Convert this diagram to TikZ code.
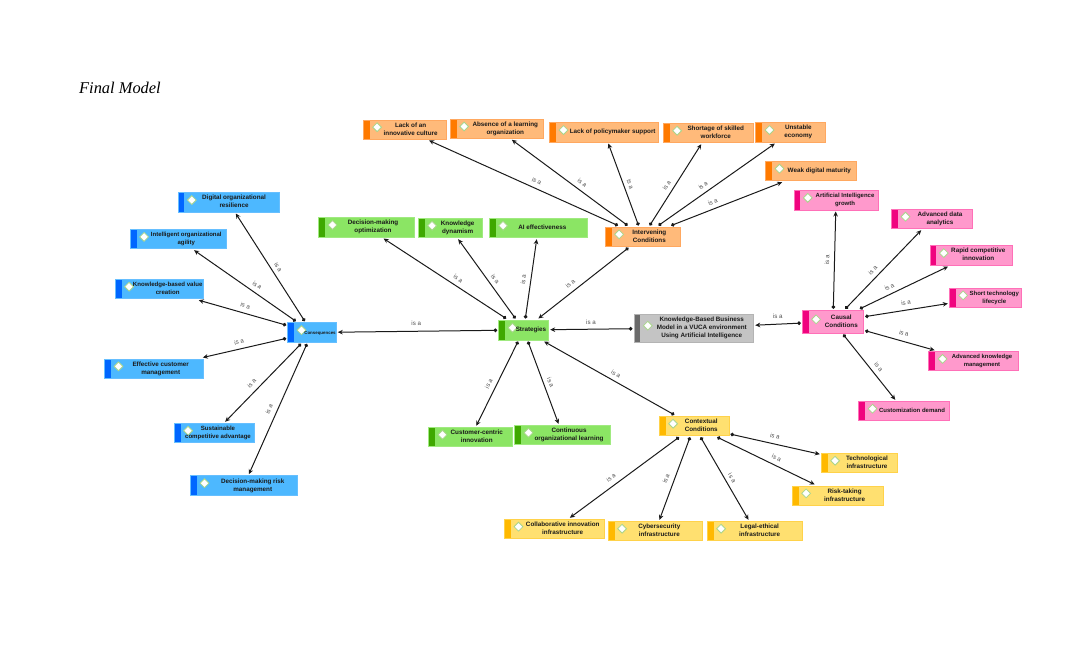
\documentclass[tikz,border=0pt]{standalone}
\usepackage{fontspec}
\setmainfont{Liberation Sans}
\newfontfamily\titlefont{Liberation Serif}
\usetikzlibrary{arrows.meta}
\definecolor{bluef}{HTML}{4DB8FF}\definecolor{bluebar}{HTML}{0066FF}\definecolor{bluel}{HTML}{66BFFF}
\definecolor{greenf}{HTML}{8BE564}\definecolor{greenbar}{HTML}{3FA800}\definecolor{greenl}{HTML}{A0EA80}
\definecolor{orangef}{HTML}{FFBA7A}\definecolor{orangebar}{HTML}{FF7A00}\definecolor{orangel}{HTML}{FFA860}
\definecolor{greyf}{HTML}{C4C4C4}\definecolor{greybar}{HTML}{6B6B6B}\definecolor{greyl}{HTML}{B4B4B4}
\definecolor{pinkf}{HTML}{FF99CC}\definecolor{pinkbar}{HTML}{F0047F}\definecolor{pinkl}{HTML}{FF70B8}
\definecolor{yellowf}{HTML}{FFE070}\definecolor{yellowbar}{HTML}{FFB900}\definecolor{yellowl}{HTML}{FFD24A}
\definecolor{diamb}{HTML}{A9D58C}\definecolor{inkc}{HTML}{1A1A1A}\definecolor{labc}{HTML}{505050}
\newcommand\barpic[1]{%
  \fill[#1] (path picture bounding box.north west) rectangle ([xshift=6.3pt]path picture bounding box.south west);
  \draw[draw=diamb,fill=white,line width=.8pt] ([xshift=13.8pt,yshift=2.3pt]path picture bounding box.west)
    ++(4.4,0) -- ++(-4.4,4.4) -- ++(-4.4,-4.4) -- ++(4.4,-4.4) -- cycle;}
\tikzset{
  boxbase/.style={rectangle,inner sep=0pt,outer sep=1.5pt,line width=.7pt,text=inkc},
  blueb/.style={boxbase,fill=bluef,draw=bluel,path picture={\barpic{bluebar}}},
  greenb/.style={boxbase,fill=greenf,draw=greenl,path picture={\barpic{greenbar}}},
  orangeb/.style={boxbase,fill=orangef,draw=orangel,path picture={\barpic{orangebar}}},
  greyb/.style={boxbase,fill=greyf,draw=greyl,path picture={\barpic{greybar}}},
  pinkb/.style={boxbase,fill=pinkf,draw=pinkl,path picture={\barpic{pinkbar}}},
  yellowb/.style={boxbase,fill=yellowf,draw=yellowl,path picture={\barpic{yellowbar}}},
  conn/.style={{Circle[length=3.6pt]}-{Stealth[length=5pt,width=4.6pt]},draw=inkc,line width=1pt},
  isalabel/.style={text=labc,inner sep=0pt,font=\fontsize{6.2}{7}\selectfont}
}
\newcommand\cbsize{}
\newcommand\cbcontent{}
\newcommand\cbtext[1]{\fontsize{#1}{8}\selectfont\bfseries\begin{tabular}{@{}c@{}}\cbcontent\end{tabular}}
\newcommand\cbox[7]{%
  \pgfmathsetmacro\cbcx{(#3+#5)/2}\pgfmathsetmacro\cbcy{(#4+#6)/2}%
  \pgfmathsetmacro\cbw{#5-#3}\pgfmathsetmacro\cbh{#6-#4}%
  \node[#1,minimum width=\cbw pt,minimum height=\cbh pt] (#2) at (\cbcx,\cbcy)
    {\hbox{\kern#7pt\expandafter\cbtext\expandafter{\cbsize}}};}
\newcommand\nd[9]{% style name x0 y0 x1 y1 kern size text
  \renewcommand\cbsize{#8}\renewcommand\cbcontent{#9}\cbox{#1}{#2}{#3}{#4}{#5}{#6}{#7}}
\newcommand\cn[5]{% from to lx ly rot
  \draw[conn] (#1) -- (#2);
  \node[isalabel,rotate=#5] (l#1#2) at (#3,#4) {is a};}
\begin{document}
\begin{tikzpicture}[x=1pt,y=-1pt]
\useasboundingbox (0,0) rectangle (1083,660);
\node[anchor=west,inner sep=0pt,font=\titlefont\itshape\fontsize{16.4}{18}\selectfont] (title) at (79,88) {Final Model};
% blue
\nd{blueb}{digital}{178}{192.7}{279.3}{212}{10.8}{6.3}{Digital organizational\\resilience}
\nd{blueb}{intelligent}{130.3}{229.7}{226.3}{248.7}{16}{6.0}{Intelligent organizational\\agility}
\nd{blueb}{knowvalue}{115.3}{279.3}{203.7}{298.7}{16.4}{6.1}{Knowledge-based value\\creation}
\nd{blueb}{effective}{104.7}{359}{203.7}{378.3}{13}{6.3}{Effective customer\\management}
\nd{blueb}{conseq}{287.7}{322.7}{336.3}{342.3}{16}{4.4}{Consequences}
\nd{blueb}{sustain}{174.3}{423.3}{254.3}{442.7}{7.4}{6.1}{Sustainable\\competitive advantage}
\nd{blueb}{decrisk}{190.7}{475.7}{297}{495.3}{17.8}{6.3}{Decision-making risk\\management}
% orange
\nd{orangeb}{lackinno}{363.3}{120}{446}{139}{12}{6.3}{Lack of an\\innovative culture}
\nd{orangeb}{absence}{450.3}{119.3}{543.7}{138.3}{16.6}{6.3}{Absence of a learning\\organization}
\nd{orangeb}{policy}{549.7}{122.7}{658.7}{142}{17}{6.3}{Lack of policymaker support}
\nd{orangeb}{shortage}{663.3}{123.3}{753.3}{142.7}{14.8}{6.3}{Shortage of skilled\\workforce}
\nd{orangeb}{unstable}{755.7}{122.7}{825.7}{142}{15.2}{6.3}{Unstable\\economy}
\nd{orangeb}{weak}{765.7}{161.3}{856}{180.7}{17}{6.3}{Weak digital maturity}
\nd{orangeb}{interv}{605.3}{227}{680}{246.3}{13.4}{6.3}{Intervening\\Conditions}
% green
\nd{greenb}{decopt}{318.7}{217.7}{414.3}{237}{13}{6.3}{Decision-making\\optimization}
\nd{greenb}{kdyn}{418.3}{218.3}{482}{237.7}{15}{6.3}{Knowledge\\dynamism}
\nd{greenb}{aieff}{489.3}{218.3}{587.3}{237.7}{8}{6.3}{AI effectiveness}
\nd{greenb}{strat}{498.7}{320}{548.7}{340}{14.6}{6.3}{Strategies}
\nd{greenb}{customer}{428.7}{427.3}{512.7}{446.7}{12}{6.3}{Customer-centric\\innovation}
\nd{greenb}{contin}{514.7}{425.3}{610.7}{444.7}{12.6}{6.3}{Continuous\\organizational learning}
% grey
\nd{greyb}{kbm}{634}{314}{753.7}{342}{15.8}{6.3}{Knowledge-Based Business\\Model in a VUCA environment\\Using Artificial Intelligence}
% pink
\nd{pinkb}{causal}{802.3}{310.3}{863.7}{333}{16.6}{6.3}{Causal\\Conditions}
\nd{pinkb}{aigrowth}{794}{190.3}{878}{210}{18}{6.0}{Artificial Intelligence\\growth}
\nd{pinkb}{advdata}{891.7}{209.3}{972.3}{228.7}{16}{6.3}{Advanced data\\analytics}
\nd{pinkb}{rapid}{930}{245.7}{1012.7}{265}{14}{6.3}{Rapid competitive\\innovation}
\nd{pinkb}{shorttech}{949.3}{288}{1021.7}{307.3}{17.6}{6.0}{Short technology\\lifecycle}
\nd{pinkb}{advknow}{928.7}{351.7}{1018.7}{370.7}{16.6}{5.9}{Advanced knowledge\\management}
\nd{pinkb}{custom}{858.7}{401.3}{949.7}{420.7}{15.6}{6.0}{Customization demand}
% yellow
\nd{yellowb}{context}{659.3}{416.3}{729}{435.7}{14.2}{6.3}{Contextual\\Conditions}
\nd{yellowb}{techinf}{821.3}{453.3}{897.3}{472.7}{15.4}{6.3}{Technological\\infrastructure}
\nd{yellowb}{riskinf}{792.3}{486}{883}{505.3}{14}{6.3}{Risk-taking\\infrastructure}
\nd{yellowb}{collab}{504.7}{519.3}{604.7}{538.7}{16}{6.3}{Collaborative innovation\\infrastructure}
\nd{yellowb}{cyber}{608.3}{521.3}{702.3}{540.7}{8}{6.3}{Cybersecurity\\infrastructure}
\nd{yellowb}{legal}{707.3}{521.3}{802.7}{540.7}{9.4}{6.3}{Legal-ethical\\infrastructure}
% connectors
\cn{conseq}{digital}{278.3}{267.3}{-57.4}
\cn{conseq}{intelligent}{257.3}{285.3}{-34.9}
\cn{conseq}{knowvalue}{245.3}{305.7}{-15.9}
\cn{conseq}{effective}{239}{342}{12.9}
\cn{conseq}{sustain}{251.7}{383.3}{45.8}
\cn{conseq}{decrisk}{269}{409.3}{66}
\cn{strat}{conseq}{416.3}{323.7}{0}
\cn{strat}{decopt}{458.3}{278.7}{-33.2}
\cn{strat}{kdyn}{495.3}{279.3}{-54.2}
\cn{strat}{aieff}{523.3}{279.3}{81.9}
\cn{interv}{strat}{570.3}{283.7}{38.2}
\cn{interv}{lackinno}{536.7}{181}{-24.2}
\cn{interv}{absence}{582.3}{182.7}{-36.5}
\cn{interv}{policy}{630.3}{184}{-69.8}
\cn{interv}{shortage}{666.7}{185.3}{57.6}
\cn{interv}{unstable}{703}{185.3}{35.2}
\cn{interv}{weak}{712.7}{201.7}{21.3}
\cn{kbm}{strat}{591}{322}{0}
\cn{causal}{kbm}{777.7}{316.7}{0}
\cn{causal}{aigrowth}{827}{260}{88.6}
\cn{causal}{advdata}{872.7}{270}{46}
\cn{causal}{rapid}{889.3}{286.7}{25.6}
\cn{causal}{shorttech}{906}{302.7}{8.9}
\cn{causal}{advknow}{904}{333.3}{-15.7}
\cn{causal}{custom}{878.7}{367.3}{-51.4}
\cn{context}{strat}{616}{374}{-29.4}
\cn{strat}{customer}{488.7}{383.7}{63.6}
\cn{strat}{contin}{550.7}{382.7}{-69.6}
\cn{context}{collab}{611}{477.7}{36.4}
\cn{context}{cyber}{666}{478.7}{69.7}
\cn{context}{legal}{732.3}{478}{-60}
\cn{context}{riskinf}{776.7}{458}{-25.9}
\cn{context}{techinf}{775}{436.3}{-12.6}
\end{tikzpicture}
\end{document}
